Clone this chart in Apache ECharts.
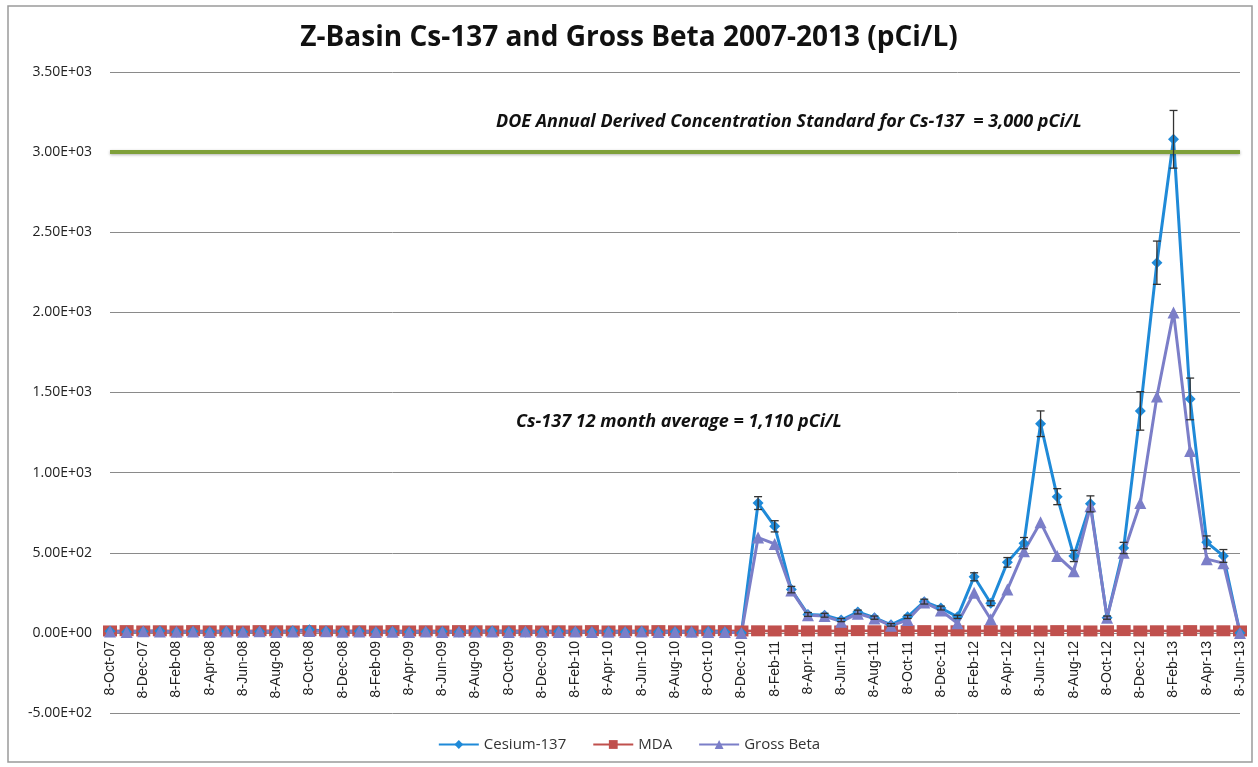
<!DOCTYPE html>
<html>
<head>
<meta charset="utf-8">
<title>Z-Basin Cs-137 and Gross Beta 2007-2013</title>
<script src="https://cdn.jsdelivr.net/npm/echarts@6/dist/echarts.min.js"></script>
<style>
html, body { margin: 0; padding: 0; background: #fff; }
#chart { width: 1258px; height: 767px; }
</style>
</head>
<body>
<div id="chart"></div>
<script>
// monthly sample dates, Oct 2007 - Jun 2013
const months = [
  '8-Oct-07', '8-Nov-07', '8-Dec-07',
  '8-Jan-08', '8-Feb-08', '8-Mar-08', '8-Apr-08', '8-May-08', '8-Jun-08', '8-Jul-08', '8-Aug-08', '8-Sep-08', '8-Oct-08', '8-Nov-08', '8-Dec-08',
  '8-Jan-09', '8-Feb-09', '8-Mar-09', '8-Apr-09', '8-May-09', '8-Jun-09', '8-Jul-09', '8-Aug-09', '8-Sep-09', '8-Oct-09', '8-Nov-09', '8-Dec-09',
  '8-Jan-10', '8-Feb-10', '8-Mar-10', '8-Apr-10', '8-May-10', '8-Jun-10', '8-Jul-10', '8-Aug-10', '8-Sep-10', '8-Oct-10', '8-Nov-10', '8-Dec-10',
  '8-Jan-11', '8-Feb-11', '8-Mar-11', '8-Apr-11', '8-May-11', '8-Jun-11', '8-Jul-11', '8-Aug-11', '8-Sep-11', '8-Oct-11', '8-Nov-11', '8-Dec-11',
  '8-Jan-12', '8-Feb-12', '8-Mar-12', '8-Apr-12', '8-May-12', '8-Jun-12', '8-Jul-12', '8-Aug-12', '8-Sep-12', '8-Oct-12', '8-Nov-12', '8-Dec-12',
  '8-Jan-13', '8-Feb-13', '8-Mar-13', '8-Apr-13', '8-May-13', '8-Jun-13'
];

// pCi/L
const cesium = [
  10, 5, 8,
  12, 6, 9, 7, 10, 5, 8, 6, 14, 20, 12, 8,
  10, 6, 9, 5, 7, 8, 6, 10, 12, 8, 6, 5,
  9, 7, 6, 8, 5, 10, 6, 7, 5, 8, 6, 0,
  810, 665, 270, 115, 110, 80, 130, 95, 50, 100, 195, 155,
  100, 350, 185, 440, 560, 1305, 850, 480, 805, 95, 530, 1385,
  2310, 3080, 1460, 565, 480, 0
];
const cesiumErr = [
  0, 0, 0,
  0, 0, 0, 0, 0, 0, 0, 0, 0, 0, 0, 0,
  0, 0, 0, 0, 0, 0, 0, 0, 0, 0, 0, 0,
  0, 0, 0, 0, 0, 0, 0, 0, 0, 0, 0, 0,
  40, 35, 20, 12, 12, 10, 12, 10, 8, 10, 15, 12,
  10, 25, 15, 30, 35, 80, 50, 35, 50, 10, 35, 120,
  135, 180, 130, 40, 40, 0
];
const grossBeta = [
  8, 6, 10,
  9, 7, 8, 6, 9, 7, 10, 5, 9, 12, 10, 7,
  8, 5, 7, 6, 9, 6, 8, 7, 9, 6, 8, 7,
  6, 8, 5, 7, 6, 8, 5, 6, 7, 5, 6, 0,
  595, 555, 265, 110, 105, 70, 120, 90, 45, 80, 190, 140,
  60, 250, 85, 270, 510, 690, 480, 385, 790, 95, 500, 810,
  1475, 2000, 1135, 460, 435, 0
];
const mda = [
  12, 14, 12,
  13, 12, 14, 12, 13, 12, 14, 13, 12, 14, 13, 12,
  13, 12, 14, 12, 13, 12, 14, 13, 12, 13, 14, 12,
  13, 12, 14, 12, 13, 12, 14, 13, 12, 13, 14, 12,
  13, 12, 14, 12, 13, 12, 14, 13, 12, 13, 14, 12,
  13, 12, 14, 12, 13, 12, 14, 13, 12, 13, 14, 12,
  13, 12, 14, 12, 13, 12
];
const doeStandard = 3000;

function sci(v) {
  if (v === 0) return '0.00E+00';
  const parts = Math.abs(v).toExponential(2).split('e');
  const exp = parseInt(parts[1], 10);
  return (v < 0 ? '-' : '') + parts[0] + 'E' + (exp < 0 ? '-' : '+') + String(Math.abs(exp)).padStart(2, '0');
}

const chart = echarts.init(document.getElementById('chart'));

chart.setOption({
  animation: false,
  backgroundColor: '#fff',
  title: {
    text: 'Z-Basin Cs-137 and Gross Beta 2007-2013 (pCi/L)',
    left: 'center',
    top: 19,
    textStyle: { fontFamily: 'Open Sans', fontSize: 28, fontWeight: 'bold', color: '#111' }
  },
  graphic: [
    {
      type: 'rect',
      shape: { x: 8, y: 6, width: 1244, height: 756 },
      style: { fill: 'none', stroke: '#9a9a9a', lineWidth: 1.5 },
      silent: true
    },
    {
      type: 'text',
      left: 496, top: 113,
      style: {
        text: 'DOE Annual Derived Concentration Standard for Cs-137  = 3,000 pCi/L',
        font: 'italic bold 18px "Open Sans"', fill: '#111'
      }
    },
    {
      type: 'text',
      left: 516, top: 413,
      style: {
        text: 'Cs-137 12 month average = 1,110 pCi/L',
        font: 'italic bold 18px "Open Sans"', fill: '#111'
      }
    }
  ],
  legend: {
    data: ['Cesium-137', 'MDA', 'Gross Beta'],
    bottom: 10,
    left: 'center',
    itemWidth: 40,
    itemHeight: 11,
    itemGap: 26,
    textStyle: { fontFamily: 'Open Sans', fontSize: 15, color: '#333' }
  },
  grid: { left: 110, right: 18, top: 72, bottom: 54 },
  xAxis: {
    type: 'category',
    data: months,
    boundaryGap: false,
    // category axis crosses the value axis at 0 (80 px above the grid bottom)
    offset: -80,
    axisLine: { onZero: false, lineStyle: { color: '#888' } },
    axisTick: { show: false },
    axisLabel: {
      interval: 1,
      rotate: 90,
      margin: 8,
      fontFamily: 'Liberation Sans',
      fontSize: 14,
      color: '#222'
    }
  },
  yAxis: {
    type: 'value',
    min: -500,
    max: 3500,
    interval: 500,
    axisLine: { show: false },
    axisTick: { show: false },
    splitLine: { lineStyle: { color: '#8a8a8a', width: 1 } },
    axisLabel: {
      formatter: sci,
      margin: 18,
      fontFamily: 'Open Sans',
      fontSize: 14,
      color: '#222'
    }
  },
  series: [
    {
      name: 'MDA',
      type: 'line',
      data: mda,
      color: '#c0504d',
      symbol: 'rect',
      symbolSize: [14, 11],
      showAllSymbol: true,
      lineStyle: { width: 2.5 },
      itemStyle: { color: '#c0504d' }
    },
    {
      name: 'Cesium-137',
      type: 'line',
      data: cesium,
      color: '#1f8ad8',
      symbol: 'diamond',
      symbolSize: 11,
      showAllSymbol: true,
      lineStyle: { width: 3 },
      itemStyle: { color: '#1f8ad8' },
      markLine: {
        silent: true,
        symbol: 'none',
        label: { show: false },
        lineStyle: { color: '#7fa03a', width: 4, type: 'solid', shadowBlur: 3, shadowColor: 'rgba(0,0,0,0.3)', shadowOffsetY: 1 },
        data: [{ yAxis: doeStandard }]
      }
    },
    {
      name: 'Gross Beta',
      type: 'line',
      data: grossBeta,
      color: '#7b7ec8',
      symbol: 'triangle',
      symbolSize: 12,
      showAllSymbol: true,
      lineStyle: { width: 3 },
      itemStyle: { color: '#7b7ec8' }
    },
    {
      name: 'Cs error',
      type: 'custom',
      z: 5,
      encode: { x: 0, y: 1 },
      data: cesium.map(function (v, i) { return [i, v, cesiumErr[i]]; }),
      renderItem: function (params, api) {
        const e = api.value(2);
        if (!e) return;
        const i = api.value(0);
        const v = api.value(1);
        const hi = api.coord([i, v + e]);
        const lo = api.coord([i, v - e]);
        const w = 4;
        const st = { stroke: '#333', lineWidth: 1.3 };
        return {
          type: 'group',
          children: [
            { type: 'line', shape: { x1: hi[0], y1: hi[1], x2: lo[0], y2: lo[1] }, style: st },
            { type: 'line', shape: { x1: hi[0] - w, y1: hi[1], x2: hi[0] + w, y2: hi[1] }, style: st },
            { type: 'line', shape: { x1: lo[0] - w, y1: lo[1], x2: lo[0] + w, y2: lo[1] }, style: st }
          ]
        };
      }
    }
  ]
});
</script>
</body>
</html>
